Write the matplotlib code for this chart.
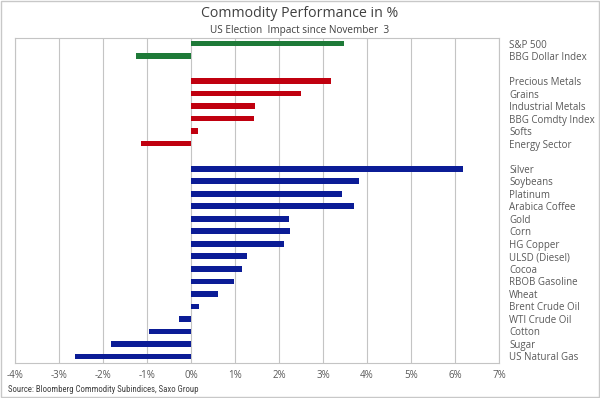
import numpy as np
import matplotlib.pyplot as plt
from matplotlib.patches import Rectangle
from matplotlib import font_manager

# Data (% change since November 3)
market_labels = ["S&P 500", "BBG Dollar Index"]
market_values = [3.47, -1.26]

sector_labels = ["Precious Metals", "Grains", "Industrial Metals", "BBG Comdty Index",
                 "Softs", "Energy Sector"]
sector_values = [3.17, 2.49, 1.45, 1.43, 0.15, -1.13]

commodity_labels = ["Silver", "Soybeans", "Platinum", "Arabica Coffee", "Gold", "Corn",
                    "HG Copper", "ULSD (Diesel)", "Cocoa", "RBOB Gasoline", "Wheat",
                    "Brent Crude Oil", "WTI Crude Oil", "Cotton", "Sugar", "US Natural Gas"]
commodity_values = [6.18, 3.82, 3.44, 3.70, 2.23, 2.25, 2.12, 1.28, 1.15, 0.98, 0.62,
                    0.17, -0.27, -0.97, -1.83, -2.65]

x_ticks = [-4, -3, -2, -1, 0, 1, 2, 3, 4, 5, 6, 7]

plt.rcParams['font.family'] = ['Open Sans', 'DejaVu Sans']

# pick a narrow font for the source line if one is around
installed = {f.name for f in font_manager.fontManager.ttflist}
narrow = [n for n in ["Liberation Sans Narrow", "DejaVu Sans Condensed", "Roboto Condensed"]
          if n in installed]

fig = plt.figure(figsize=(6, 3.98), dpi=100)
ax = fig.add_axes([0.0255, 0.0887, 0.806, 0.817])

# Build row positions, leaving one empty row between groups
groups = [(market_labels, market_values, "#1e7a38"),
          (sector_labels, sector_values, "#c0000f"),
          (commodity_labels, commodity_values, "#0b1c96")]
pos = 0
all_pos, all_labels = [], []
for labels, values, color in groups:
    ys = np.arange(pos, pos + len(labels))
    ax.barh(ys, values, height=0.45, color=color, zorder=3)
    all_pos.extend(ys)
    all_labels.extend(labels)
    pos += len(labels) + 1

ax.set_ylim(pos - 1 - 0.5, -0.48)
ax.set_xlim(x_ticks[0], x_ticks[-1])
ax.set_xticks(x_ticks)
ax.set_xticklabels([f"{t}%" for t in x_ticks])
ax.xaxis.grid(True, color="#c4c4c4", linewidth=0.8, zorder=0)

ax.yaxis.tick_right()
ax.set_yticks(all_pos)
ax.set_yticklabels(all_labels)
ax.tick_params(axis="y", length=0, pad=7.5, labelsize=7, labelcolor="#595959")
ax.tick_params(axis="x", length=0, pad=5, labelsize=7, labelcolor="#595959")
for s in ax.spines.values():
    s.set_color("#c4c4c4")
    s.set_linewidth(0.8)

fig.text(0.5, 0.966, "Commodity Performance in %", ha="center", va="center",
         fontsize=10.2, color="#404040")
fig.text(0.5, 0.924, "US Election  Impact since November  3", ha="center", va="center",
         fontsize=7.2, color="#404040")
src_family = narrow[0] if narrow else "Liberation Sans"
src_size = 6.3 if narrow else 5.3
fig.text(0.013, 0.022, "Source: Bloomberg Commodity Subindices, Saxo Group", ha="left",
         va="center", fontsize=src_size, color="#404040", family=src_family)

# light frame around the whole picture
fig.patches.append(Rectangle((0.002, 0.003), 0.996, 0.994, transform=fig.transFigure,
                             fill=False, edgecolor="#c8c8c8", linewidth=1))

fig.savefig("out.png", dpi=100)
